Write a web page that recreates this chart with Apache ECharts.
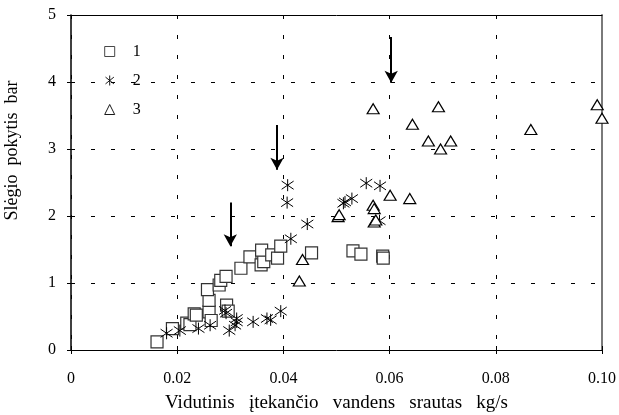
<!DOCTYPE html>
<html>
<head>
<meta charset="utf-8">
<script src="https://cdn.jsdelivr.net/npm/echarts@6/dist/echarts.min.js"></script>
<style>
  html, body { margin: 0; padding: 0; background: #fff; }
  #chart { width: 619px; height: 415px; }
</style>
</head>
<body>
<div id="chart"></div>
<script>
// Measured points: [flow kg/s, pressure change bar]
const series1 = [
  [0.0162, 0.12], [0.0191, 0.32], [0.0218, 0.40], [0.0224, 0.38],
  [0.0232, 0.54], [0.0236, 0.52], [0.0260, 0.57], [0.0264, 0.44],
  [0.0260, 0.74], [0.0257, 0.90], [0.0279, 0.97], [0.0282, 1.04],
  [0.0292, 1.10], [0.0293, 0.67], [0.0296, 0.58], [0.0320, 1.22],
  [0.0337, 1.39], [0.0358, 1.27], [0.0363, 1.32], [0.0359, 1.49],
  [0.0378, 1.42], [0.0389, 1.37], [0.0395, 1.55], [0.0453, 1.45],
  [0.0531, 1.48], [0.0546, 1.43], [0.0587, 1.40], [0.0588, 1.37]
];
const series2 = [
  [0.0180, 0.25], [0.0205, 0.29], [0.0240, 0.32], [0.0262, 0.37],
  [0.0290, 0.59], [0.0292, 0.55], [0.0298, 0.29], [0.0309, 0.37],
  [0.0312, 0.42], [0.0312, 0.47], [0.0343, 0.42], [0.0369, 0.47],
  [0.0376, 0.45], [0.0395, 0.58], [0.0414, 1.66], [0.0407, 2.20],
  [0.0408, 2.46], [0.0445, 1.88], [0.0513, 2.19], [0.0516, 2.21],
  [0.0529, 2.26], [0.0556, 2.49], [0.0582, 2.45], [0.0581, 1.93]
];
const series3 = [
  [0.0430, 1.03], [0.0436, 1.35], [0.0503, 1.99], [0.0505, 2.02],
  [0.0569, 2.16], [0.0571, 2.11], [0.0571, 1.91], [0.0574, 1.94],
  [0.0601, 2.31], [0.0638, 2.26], [0.0569, 3.60], [0.0643, 3.37],
  [0.0692, 3.63], [0.0673, 3.12], [0.0696, 3.00], [0.0715, 3.12],
  [0.0866, 3.29], [0.0991, 3.66], [0.1000, 3.46]
];
const seriesNames = ['1', '2', '3'];

// Arrow annotations: [x, yStart, yEnd]
const arrows = [
  [0.0300, 2.20, 1.55],
  [0.0388, 3.36, 2.69],
  [0.0603, 4.67, 3.99]
];

const xTicks = { min: 0, max: 0.1, interval: 0.02 };
const yTicks = { min: 0, max: 5, interval: 1 };

const FONT = '"Liberation Serif", "Times New Roman", serif';
const ASTERISK = 'path://M5,0L5,10M0.8,1.6L9.2,8.4M0.8,8.4L9.2,1.6';

const chart = echarts.init(document.getElementById('chart'), null, { renderer: 'canvas' });

const gridLine = { show: true, lineStyle: { color: '#000', type: [4, 16], width: 1 } };

chart.setOption({
  animation: false,
  backgroundColor: '#fff',
  textStyle: { fontFamily: FONT, color: '#000' },
  grid: { left: 71, right: 17, top: 15, bottom: 65, containLabel: false, outerBoundsMode: 'none' },
  legend: {
    orient: 'vertical',
    left: 98,
    top: 38,
    itemWidth: 10,
    itemHeight: 10,
    itemGap: 12,
    data: seriesNames,
    itemStyle: { borderWidth: 0.9 },
    textStyle: { fontFamily: FONT, fontSize: 16, color: '#000', padding: [0, 0, 0, 13], lineHeight: 17 }
  },
  xAxis: [
    {
      type: 'value', position: 'bottom', ...xTicks,
      name: 'Vidutinis   įtekančio   vandens   srautas   kg/s',
      nameLocation: 'middle', nameGap: 44,
      nameTextStyle: { fontFamily: FONT, fontSize: 19, color: '#000' },
      axisLine: { show: true, onZero: false, lineStyle: { color: '#000', width: 1 } },
      axisTick: { show: true, inside: false, length: 4, lineStyle: { color: '#000' } },
      axisLabel: {
        margin: 21, fontFamily: FONT, fontSize: 16, color: '#000',
        formatter: v => (v === 0 ? '0' : v.toFixed(2))
      },
      splitLine: gridLine
    },
    {
      type: 'value', position: 'bottom', ...xTicks,
      axisLine: { show: false },
      axisTick: { show: true, inside: true, length: 4, lineStyle: { color: '#000' } },
      axisLabel: { show: false },
      splitLine: { show: false }
    },
    {
      type: 'value', position: 'top', ...xTicks,
      axisLine: { show: true, onZero: false, lineStyle: { color: '#000', width: 1 } },
      axisTick: { show: false },
      axisLabel: { show: false },
      splitLine: { show: false }
    }
  ],
  yAxis: [
    {
      type: 'value', position: 'left', ...yTicks,
      name: 'Slėgio  pokytis  bar',
      nameLocation: 'middle', nameGap: 50, nameRotate: 90,
      nameTextStyle: { fontFamily: FONT, fontSize: 18, color: '#000', padding: [0, 0, 0, 64] },
      axisLine: { show: true, onZero: false, lineStyle: { color: '#000', width: 1.5 } },
      axisTick: { show: true, inside: false, length: 4, lineStyle: { color: '#000' } },
      axisLabel: { margin: 15, fontFamily: FONT, fontSize: 16, color: '#000' },
      splitLine: gridLine
    },
    {
      type: 'value', position: 'left', ...yTicks,
      axisLine: { show: false },
      axisTick: { show: true, inside: true, length: 4, lineStyle: { color: '#000' } },
      axisLabel: { show: false },
      splitLine: { show: false }
    },
    {
      type: 'value', position: 'right', ...yTicks,
      axisLine: { show: true, onZero: false, lineStyle: { color: '#7a7a7a', width: 2 } },
      axisTick: { show: false },
      axisLabel: { show: false },
      splitLine: { show: false }
    }
  ],
  series: [
    {
      name: seriesNames[0], type: 'scatter', data: series1, clip: false,
      symbol: 'rect', symbolSize: 12,
      itemStyle: { color: '#fff', borderColor: '#333', borderWidth: 1.2, opacity: 1 },
      z: 3
    },
    {
      name: seriesNames[1], type: 'scatter', data: series2, clip: false,
      symbol: ASTERISK, symbolSize: 12,
      itemStyle: { color: 'none', borderColor: '#000', borderWidth: 1, opacity: 1 },
      z: 4
    },
    {
      name: seriesNames[2], type: 'scatter', data: series3, clip: false,
      symbol: 'triangle', symbolSize: [12, 10],
      itemStyle: { color: '#fff', borderColor: '#000', borderWidth: 1.2, opacity: 1 },
      z: 5,
      markLine: {
        silent: true,
        symbol: ['none', 'arrow'],
        symbolSize: [10, 12],
        label: { show: false },
        lineStyle: { color: '#000', width: 2, type: 'solid' },
        emphasis: { disabled: true },
        data: arrows.map(a => [{ coord: [a[0], a[1]] }, { coord: [a[0], a[2]] }])
      }
    }
  ]
});
</script>
</body>
</html>
